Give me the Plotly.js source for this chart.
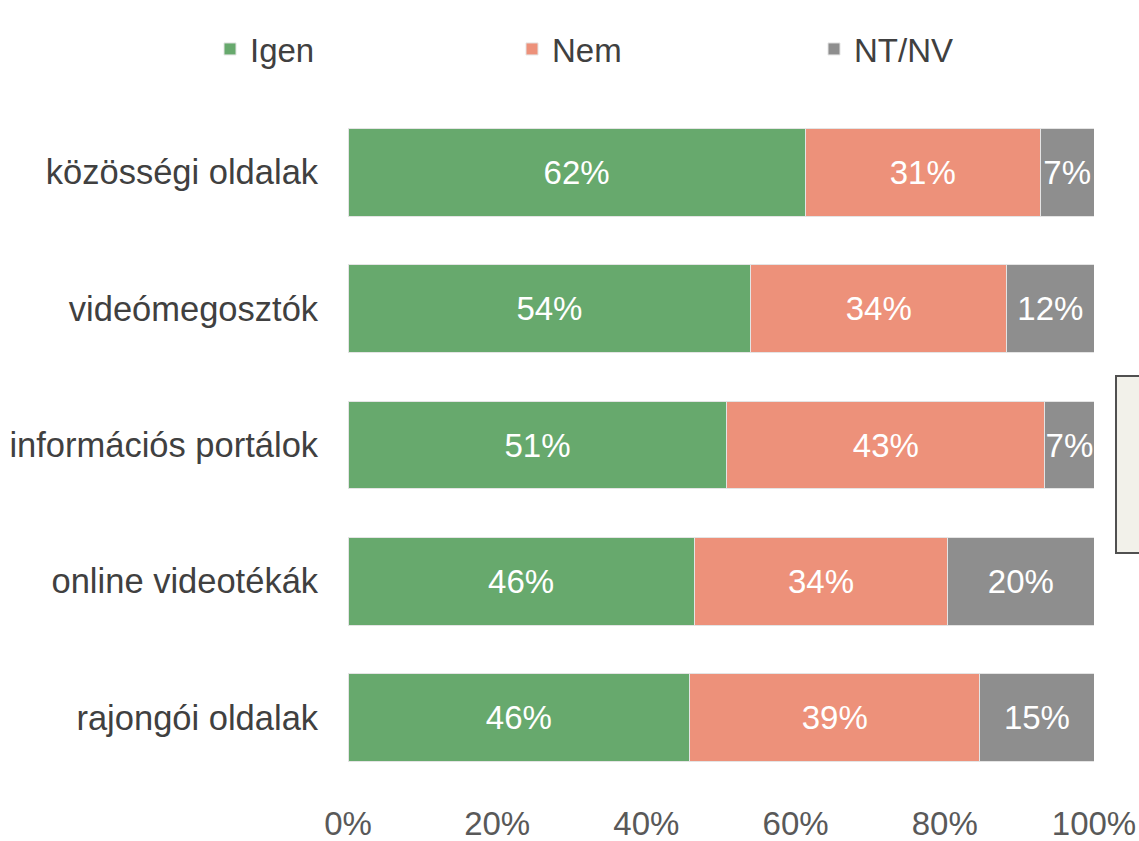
<!DOCTYPE html>
<html>
<head>
<meta charset="utf-8">
<script src="https://cdn.plot.ly/plotly-3.0.1.min.js"></script>
<style>html,body{margin:0;padding:0;background:#fff;}#chart{width:1139px;height:841px;}</style>
</head>
<body>
<div id="chart"></div>
<script>
const categories = ["közösségi oldalak", "videómegosztók", "információs portálok", "online videotékák", "rajongói oldalak"];
const igenValues = [61.3, 54.0, 50.8, 46.4, 45.8];
const nemValues = [31.5, 34.3, 42.6, 34.0, 38.9];
const ntnvValues = [7.2, 11.7, 6.6, 19.6, 15.3];
const igenLabels = ["62%", "54%", "51%", "46%", "46%"];
const nemLabels = ["31%", "34%", "43%", "34%", "39%"];
const ntnvLabels = ["7%", "12%", "7%", "20%", "15%"];
const xTicks = [0, 20, 40, 60, 80, 100];
const xTickLabels = ["0%", "20%", "40%", "60%", "80%", "100%"];

const FONT = "Liberation Sans, Arial, sans-serif";
function series(name, vals, labels, color) {
  return {
    type: "bar", orientation: "h", name: name,
    y: categories, x: vals, text: labels,
    textposition: "inside", insidetextanchor: "middle", textangle: 0,
    textfont: {family: FONT, size: 33, color: "#ffffff"},
    marker: {color: color, line: {color: "#e4e4e4", width: 1}},
    hoverinfo: "skip", cliponaxis: false, constraintext: "none"
  };
}
const data = [
  series("Igen", igenValues, igenLabels, "#67a96d"),
  series("Nem", nemValues, nemLabels, "#ed917a"),
  series("NT/NV", ntnvValues, ntnvLabels, "#8e8e8e")
];
const layout = {
  width: 1139, height: 841,
  margin: {l: 348, r: 45, t: 104, b: 55, autoexpand: false},
  barmode: "stack", bargap: 0.355,
  paper_bgcolor: "#ffffff", plot_bgcolor: "#ffffff",
  font: {family: FONT, size: 33, color: "#404040"},
  showlegend: true,
  legend: {
    orientation: "h", xref: "paper", yref: "paper",
    x: (210 - 348) / 746, y: (786 - 21) / 682, xanchor: "left", yanchor: "top",
    entrywidth: 257, entrywidthmode: "pixels",
    font: {family: FONT, size: 33, color: "#404040"},
    traceorder: "normal", itemclick: false, itemdoubleclick: false
  },
  xaxis: {
    range: [0, 100], tickvals: xTicks, ticktext: xTickLabels,
    showgrid: false, zeroline: false, showline: false,
    ticks: "outside", ticklen: 8, tickcolor: "rgba(0,0,0,0)",
    tickfont: {family: FONT, size: 33, color: "#595959"}, fixedrange: true
  },
  yaxis: {
    categoryorder: "array", categoryarray: categories, autorange: "reversed",
    showgrid: false, zeroline: false, showline: false,
    ticks: "outside", ticklen: 22, tickcolor: "rgba(0,0,0,0)",
    tickfont: {family: FONT, size: 34.5, color: "#404040"}, fixedrange: true
  },
  shapes: [{
    type: "rect", xref: "paper", yref: "paper",
    x0: 1.0295, x1: 1.2, y0: 0.3416, y1: 0.601,
    fillcolor: "#f2f1ea", line: {color: "#505050", width: 2}
  }]
};
Plotly.newPlot("chart", data, layout, {displayModeBar: false, staticPlot: true});
</script>
</body>
</html>
